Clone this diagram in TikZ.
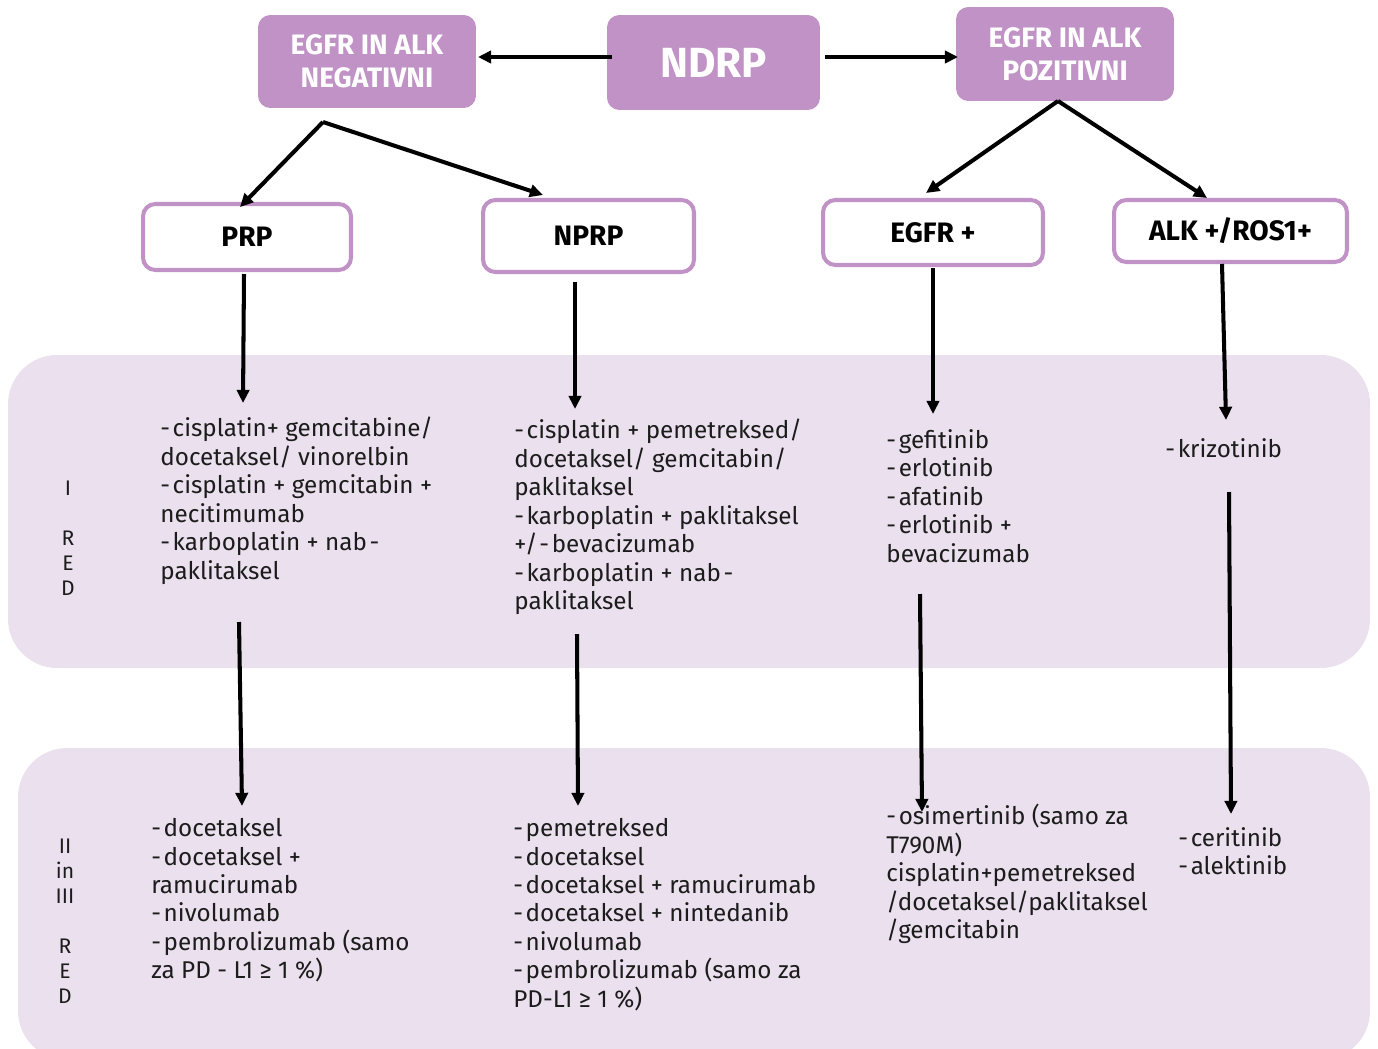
\documentclass[tikz,border=0pt]{standalone}
\usepackage{fontspec}
\setmainfont{Fira Sans}
\usetikzlibrary{arrows.meta}
\definecolor{boxpurple}{RGB}{192,146,198}
\definecolor{band}{RGB}{235,224,238}
\definecolor{ink}{RGB}{28,28,28}
\newcommand{\dd}{-\kern1.5pt}
\begin{document}
\begin{tikzpicture}[x=0.02cm,y=-0.02cm,
  topbox/.style={fill=boxpurple, rounded corners=7pt, text=white, inner sep=0pt, align=center},
  subbox/.style={draw=boxpurple, line width=2.3pt, fill=white, rounded corners=7pt, inner sep=0pt,
     font=\fontsize{16}{18}\selectfont\bfseries, text=black},
  txt/.style={anchor=north west, inner sep=0pt, align=left, text=ink,
     font=\fontsize{13.8}{16.2}\selectfont},
  lab/.style={anchor=north, inner sep=0pt, align=center, text=ink,
     font=\fontsize{12}{14.2}\selectfont},
  arr/.style={line width=2.3pt, -{Triangle[length=7.5pt,width=7pt]}}]
\useasboundingbox (0,0) rectangle (1378,1048);
% bands
\begin{scope}
\clip (0,0) rectangle (1378,1048);
\fill[band, rounded corners=28pt] (8,355) rectangle (1370,668);
\fill[band, rounded corners=28pt] (18,748) rectangle (1370,1060);
\end{scope}
% top boxes
\node[topbox, minimum width=4.26cm, minimum height=1.9cm, font=\fontsize{24}{28}\selectfont\bfseries] (ndrp) at (713.5,62.5) {NDRP};
\node[topbox, minimum width=4.36cm, minimum height=1.86cm, font=\fontsize{16}{19}\selectfont\bfseries] (neg) at (367,61.5) {EGFR IN ALK\\NEGATIVNI};
\node[topbox, minimum width=4.36cm, minimum height=1.88cm, font=\fontsize{16}{19}\selectfont\bfseries] (pos) at (1065,54) {EGFR IN ALK\\POZITIVNI};
% sub boxes
\node[subbox, minimum width=4.16cm, minimum height=1.32cm] (prp) at (247,237) {PRP};
\node[subbox, minimum width=4.22cm, minimum height=1.44cm] (nprp) at (588.5,236) {NPRP};
\node[subbox, minimum width=4.40cm, minimum height=1.30cm] (egfr) at (933,232.5) {EGFR +};
\node[subbox, minimum width=4.66cm, minimum height=1.24cm] (alk) at (1230.5,231) {ALK +/ROS1+};
% row labels
\node[lab] (l1) at (68,481) {I\\\mbox{}\\R\\E\\D};
\node[lab] (l2) at (65,839) {II\\in\\III\\\mbox{}\\R\\E\\D};
% first line texts
\node[txt] (t1) at (160,417) {\dd cisplatin+ gemcitabine/\\docetaksel/ vinorelbin\\\dd cisplatin + gemcitabin +\\necitimumab\\\dd karboplatin + nab\kern1.5pt-\\paklitaksel};
\node[txt] (t2) at (514,419) {\dd cisplatin + pemetreksed/\\docetaksel/ gemcitabin/\\paklitaksel\\\dd karboplatin + paklitaksel\\+/\kern1pt-\kern1.5pt bevacizumab\\\dd karboplatin + nab\kern1.5pt-\\paklitaksel};
\node[txt] (t3) at (886,429) {\dd gefitinib\\\dd erlotinib\\\dd afatinib\\\dd erlotinib +\\bevacizumab};
\node[txt] (t4) at (1165,438) {\dd krizotinib};
% second line texts
\node[txt] (u1) at (151,818) {\dd docetaksel\\\dd docetaksel +\\ramucirumab\\\dd nivolumab\\\dd pembrolizumab (samo\\za PD - L1 ≥ 1 \%)};
\node[txt] (u2) at (513,818) {\dd pemetreksed\\\dd docetaksel\\\dd docetaksel + ramucirumab\\\dd docetaksel + nintedanib\\\dd nivolumab\\\dd pembrolizumab (samo za\\PD-L1 ≥ 1 \%)};
\node[txt] (u3) at (886,804) {\dd osimertinib (samo za\\T790M)\\cisplatin+pemetreksed\\/docetaksel/paklitaksel\\/gemcitabin};
\node[txt] (u4) at (1178,827) {\dd ceritinib\\\dd alektinib};
% arrow end points
\coordinate (c1a) at (612,57); \coordinate (c1b) at (478,57);
\coordinate (c2a) at (825,57); \coordinate (c2b) at (958,57);
\coordinate (negf) at (323,122); \coordinate (posf) at (1058,101);
\coordinate (prpin) at (240,207); \coordinate (nprpin) at (543,195);
\coordinate (egfrin) at (926,193); \coordinate (alkin) at (1207,198);
\coordinate (p1) at (244,274); \coordinate (p1e) at (243,403);
\coordinate (p2) at (575,282); \coordinate (p2e) at (575,409);
\coordinate (p3) at (933,268); \coordinate (p3e) at (933,414);
\coordinate (p4) at (1222,264); \coordinate (p4e) at (1226,420);
\coordinate (q1) at (239,622); \coordinate (q1e) at (242,806);
\coordinate (q2) at (577,634); \coordinate (q2e) at (578,806);
\coordinate (q3) at (920,594); \coordinate (q3e) at (922,812);
\coordinate (q4) at (1229,492); \coordinate (q4e) at (1231,814);
% arrows
\draw[arr] (c1a) -- (c1b);
\draw[arr] (c2a) -- (c2b);
\draw[arr] (negf) -- (prpin);
\draw[arr] (negf) -- (nprpin);
\draw[arr] (posf) -- (egfrin);
\draw[arr] (posf) -- (alkin);
\draw[arr] (p1) -- (p1e);
\draw[arr] (p2) -- (p2e);
\draw[arr] (p3) -- (p3e);
\draw[arr] (p4) -- (p4e);
\draw[arr] (q1) -- (q1e);
\draw[arr] (q2) -- (q2e);
\draw[arr] (q3) -- (q3e);
\draw[arr] (q4) -- (q4e);
\end{tikzpicture}
\end{document}
